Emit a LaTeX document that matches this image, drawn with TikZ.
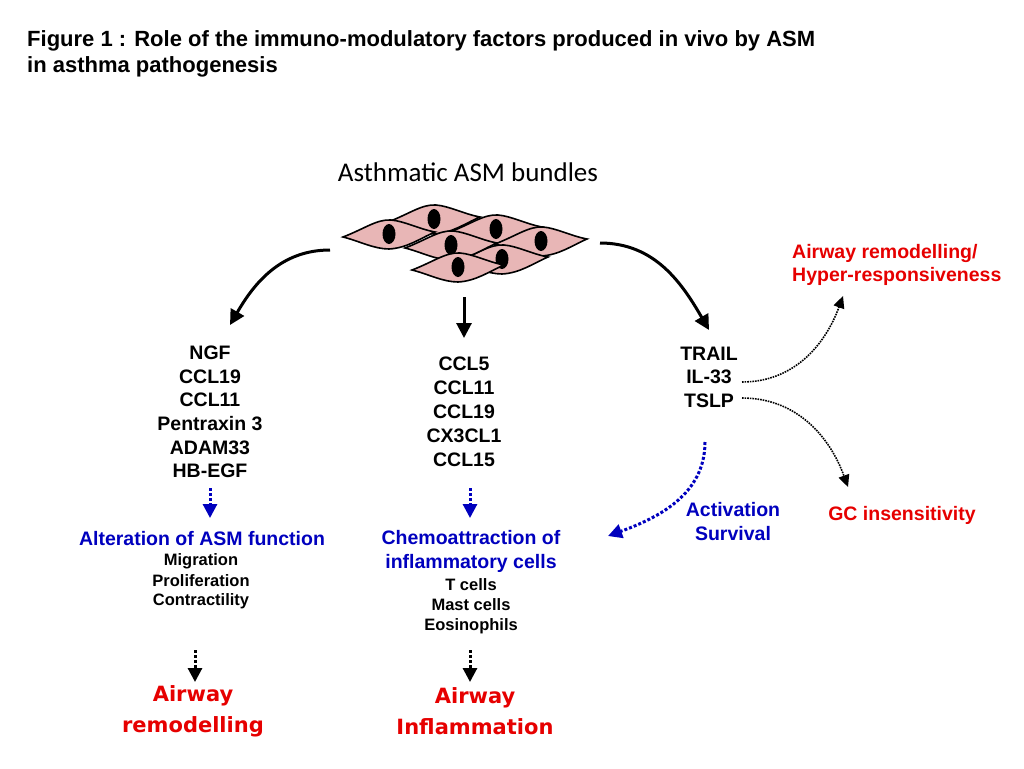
\documentclass[tikz,border=0pt]{standalone}
\usepackage{fontspec}
\setmainfont{Liberation Sans}
\newfontfamily\tfont{Carlito}
\newfontfamily\dfont{DejaVu Sans}
\usetikzlibrary{arrows.meta}
\definecolor{cellc}{RGB}{232,182,182}
\definecolor{bl}{RGB}{0,0,190}
\definecolor{rd}{RGB}{230,0,0}
\begin{document}
\begin{tikzpicture}[x=1pt,y=-1pt,
  sm/.style={font=\fontsize{16.5}{16.5}\selectfont\bfseries,inner sep=0},
  blk/.style={-{Triangle[length=15pt,width=15pt]},line width=3pt},
  dotb/.style={bl,dotted,line width=3pt,-{Triangle[length=14pt,width=14pt]}},
  dotk/.style={black,dotted,line width=3pt,-{Triangle[length=14pt,width=14pt]}},
  thin/.style={black,densely dotted,line width=1.6pt,-{Triangle[length=12pt,width=11pt]}},
  red/.style={rd,inner sep=0},
  cell/.pic={\draw[fill=cellc,line width=1.6pt] (-46,2) .. controls (-25,-6) and (-12,-16) .. (2,-15) .. controls (15,-14) and (30,-6) .. (46,-3) .. controls (30,4) and (18,13) .. (0,14) .. controls (-15,14) and (-30,6) .. (-46,2) -- cycle;
    \fill (0,-1) ellipse (6.5 and 10);}]
\useasboundingbox (0,0) rectangle (1024,768);
\node[anchor=west,font=\fontsize{22}{26}\selectfont\bfseries,align=left,inner sep=0] (title) at (27,54) {Figure 1 : Role of the immuno-modulatory factors produced in vivo by ASM\\in asthma pathogenesis};
\node[font=\tfont\fontsize{27}{27}\selectfont,inner sep=0] (asm) at (468,172) {Asthmatic ASM bundles};
\pic at (434,220) {cell};
\pic at (496,230) {cell};
\pic at (541,242) {cell};
\pic at (502,260) {cell};
\pic at (451,246) {cell};
\pic at (389,235) {cell};
\pic at (458,268) {cell};
\coordinate (cl) at (330,250); \coordinate (cm) at (464,297); \coordinate (cr) at (600,243);
\node[align=center,inner sep=0,font=\fontsize{19.5}{23.6}\selectfont\bfseries] (L) at (210,412) {NGF\\CCL19\\CCL11\\Pentraxin 3\\ADAM33\\HB-EGF};
\node[align=center,inner sep=0,font=\fontsize{19.5}{23.9}\selectfont\bfseries] (M) at (464,412) {CCL5\\CCL11\\CCL19\\CX3CL1\\CCL15};
\node[align=center,inner sep=0,font=\fontsize{19.5}{23.6}\selectfont\bfseries] (R) at (709,377) {TRAIL\\IL-33\\TSLP};
\draw[blk] (cl) to[out=180,in=60] (230,325);
\draw[blk] (cm) -- (464,338);
\draw[blk] (cr) to[out=0,in=120] (709,330);
\node[bl,font=\fontsize{19.5}{19.5}\selectfont\bfseries,inner sep=0] (alt) at (202,539) {Alteration of ASM function};
\node[sm] (mig) at (201,561) {Migration};
\node[sm] (pro) at (201,581) {Proliferation};
\node[sm] (con) at (201,601) {Contractility};
\node[bl,font=\fontsize{19.5}{24}\selectfont\bfseries,align=center,inner sep=0] (che) at (471,551) {Chemoattraction of\\inflammatory cells};
\node[sm] (t) at (471,585) {T cells};
\node[sm] (mc) at (471,605) {Mast cells};
\node[sm] (eo) at (471,626) {Eosinophils};
\node[bl,font=\fontsize{19.5}{24}\selectfont\bfseries,align=center,inner sep=0] (act) at (733,522) {Activation\\Survival};
\node[rd,font=\fontsize{19.5}{19.5}\selectfont\bfseries,inner sep=0] (gc) at (902,515) {GC insensitivity};
\node[rd,font=\fontsize{19.5}{23}\selectfont\bfseries,align=left,anchor=west,inner sep=0] (hr) at (792,265) {Airway remodelling/\\Hyper-responsiveness};
\coordinate (b1) at (210,488); \coordinate (b2) at (470,488); \coordinate (b3) at (705,442);
\draw[dotb] (b1) -- (210,518);
\draw[dotb] (b2) -- (470,518);
\draw[dotb] (b3) to[out=-90,in=20] (608,536);
\coordinate (k1) at (195,650); \coordinate (k2) at (470,650);
\draw[dotk] (k1) -- (195,682);
\draw[dotk] (k2) -- (470,682);
\draw[thin] (742,382) to[out=0,in=-110] (843,296);
\draw[thin] (742,398) to[out=0,in=110] (848,487);
\node[red,align=center,font=\dfont\fontsize{21}{31}\selectfont\bfseries] (ar) at (193,711) {Airway\\remodelling};
\node[red,align=center,font=\dfont\fontsize{21}{31}\selectfont\bfseries] (ai) at (475,711) {Airway\\Inflammation};
\end{tikzpicture}
\end{document}
